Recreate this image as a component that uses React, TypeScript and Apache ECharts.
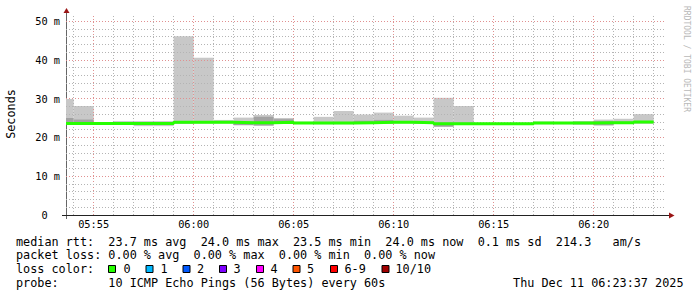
import React, { useEffect, useRef } from "react";
import * as echarts from "echarts";

// ---- data ----
const axisStart = "05:53:37";
const axisEnd = "06:23:37";
const binStarts = [
  "05:53:37", "05:54:00", "05:55:00", "05:56:00", "05:57:00", "05:58:00", "05:59:00",
  "06:00:00", "06:01:00", "06:02:00", "06:03:00", "06:04:00", "06:05:00", "06:06:00",
  "06:07:00", "06:08:00", "06:09:00", "06:10:00", "06:11:00", "06:12:00", "06:13:00",
  "06:14:00", "06:15:00", "06:16:00", "06:17:00", "06:18:00", "06:19:00", "06:20:00",
  "06:21:00", "06:22:00",
];
const binEndTime = "06:23:00";
// ms values per minute bin
const pingMin = [23.4, 23.4, 23.4, 23.4, 22.9, 22.9, 23.5, 23.6, 23.6, 23.1, 23.0, 23.5, 23.5, 23.4, 23.4,
  23.5, 23.5, 23.6, 23.5, 22.7, 23.3, 23.3, 23.3, 23.3, 23.4, 23.4, 23.3, 23.0, 23.5, 23.5];
const pingLow = [23.4, 23.4, 23.5, 23.5, 23.2, 23.2, 23.6, 23.7, 23.7, 23.2, 23.1, 23.6, 23.5, 23.5, 23.5,
  23.6, 23.6, 23.7, 23.6, 22.8, 23.3, 23.3, 23.3, 23.3, 23.5, 23.5, 23.4, 23.2, 23.6, 23.7];
const pingHigh = [25.0, 24.6, 23.8, 23.9, 23.8, 23.8, 24.2, 24.1, 24.0, 24.1, 25.3, 24.7, 24.0, 23.9, 24.0,
  24.3, 24.5, 24.1, 23.9, 23.8, 23.8, 23.7, 23.7, 23.7, 23.9, 23.9, 24.0, 24.2, 24.1, 24.1];
const pingMax = [29.9, 28.1, 23.9, 24.2, 24.2, 24.2, 46.1, 40.5, 24.5, 25.1, 25.8, 25.0, 24.0, 25.3, 26.8,
  25.9, 26.4, 25.6, 25.1, 30.2, 28.1, 23.8, 23.8, 23.8, 24.1, 24.0, 24.2, 24.6, 24.8, 26.0];
const medianRtt = [23.6, 23.6, 23.6, 23.6, 23.6, 23.6, 23.9, 23.9, 23.9, 23.8, 23.8, 23.9, 23.7, 23.7, 23.7,
  23.8, 23.9, 23.9, 23.8, 23.5, 23.5, 23.5, 23.5, 23.5, 23.7, 23.7, 23.7, 23.8, 23.8, 24.0];

const xTickLabels = ["05:55", "06:00", "06:05", "06:10", "06:15", "06:20"];
const yMax = 51.55;
const yLabelStep = 10;
const yGridStep = 2;

const lossLabels = ["0", "1", "2", "3", "4", "5", "6-9", "10/10"];
const lossColors = ["#26ff00", "#00b8ff", "#0059ff", "#7e00ff", "#ff00ff", "#ff5500", "#ff0000", "#a10000"];

const legendRtt = "median rtt:  23.7 ms avg  24.0 ms max  23.5 ms min  24.0 ms now  0.1 ms sd  214.3   am/s";
const legendLoss = "packet loss: 0.00 % avg  0.00 % max  0.00 % min  0.00 % now";
const legendColor = "loss color:";
const legendProbe = "probe:       10 ICMP Echo Pings (56 Bytes) every 60s";
const legendDate = "Thu Dec 11 06:23:37 2025";
const yTitle = "Seconds";
const watermark = "RRDTOOL / TOBI OETIKER";

// ---- helpers ----
const MONO = "'DejaVu Sans Mono', monospace";
const MINOR = "#b4b4b4";
const MAJOR = "#e09090";
const nb = (s: string) => s.replace(/ /g, "\u00a0");

function toMin(t: string): number {
  const [h, m, s] = t.split(":").map(Number);
  return h * 60 + m + (s || 0) / 60;
}
function fmt(v: number): string {
  const h = Math.floor(v / 60);
  const m = Math.round(v - h * 60);
  return String(h).padStart(2, "0") + ":" + String(m).padStart(2, "0");
}

export default function App() {
  const ref = useRef<HTMLDivElement>(null);

  useEffect(() => {
    document.body.style.margin = "0";
    if (!ref.current) return;
    const chart = echarts.init(ref.current, undefined, { renderer: "svg" });

    const start = toMin(axisStart);
    const end = toMin(axisEnd);
    const starts = binStarts.map(toMin);
    const ends = starts.slice(1).concat([toMin(binEndTime)]);
    const smokeData = starts.map((s, i) => [s, ends[i], pingMin[i], pingLow[i], pingHigh[i], pingMax[i]]);
    const medData: number[][] = starts.map((s, i) => [s, medianRtt[i]]);
    medData.push([ends[ends.length - 1], medianRtt[medianRtt.length - 1]]);

    const gridLines: any[] = [];
    for (let m = Math.ceil(start); m <= end; m++) {
      gridLines.push({ xAxis: m, lineStyle: { color: Math.round(m) % 5 === 0 ? MAJOR : MINOR, type: [1, 2], width: 1 } });
    }
    for (let v = yGridStep; v <= yMax; v += yGridStep) {
      gridLines.push({ yAxis: v, lineStyle: { color: v % yLabelStep === 0 ? MAJOR : MINOR, type: [1, 2], width: 1 } });
    }

    const boxX = [108, 145.5, 182.5, 219, 256, 292.5, 330, 381.5];
    const labX = [123.5, 160.5, 197, 233.5, 270.5, 307, 344.5, 395.5];
    const legendGraphics: any[] = [];
    lossLabels.forEach((lab, i) => {
      legendGraphics.push({
        type: "rect",
        shape: { x: boxX[i] + 0.5, y: 265.5, width: 7, height: 7 },
        style: { fill: lossColors[i], stroke: "#000", lineWidth: 1 },
        silent: true,
      });
      legendGraphics.push({
        type: "text",
        x: labX[i],
        y: 269,
        style: { text: nb(lab), font: `11.8px ${MONO}`, fill: "#000", verticalAlign: "middle", align: "left" },
        silent: true,
      });
    });

    const textLine = (t: string, y: number, x = 16, align = "left") => ({
      type: "text",
      x,
      y,
      style: { text: nb(t), font: `11.8px ${MONO}`, fill: "#000", verticalAlign: "middle", align },
      silent: true,
    });

    chart.setOption({
      animation: false,
      backgroundColor: "#ffffff",
      grid: { left: 66, top: 15, width: 600, height: 200, containLabel: false, outerBoundsMode: "none" },
      xAxis: {
        type: "value",
        min: start,
        max: end,
        axisLine: { show: false },
        axisTick: { show: false },
        splitLine: { show: false },
        axisLabel: {
          customValues: xTickLabels.map(toMin),
          formatter: (v: number) => fmt(v),
          fontFamily: MONO,
          fontSize: 10.3,
          color: "#000",
          margin: 4,
          showMinLabel: true,
          showMaxLabel: true,
        },
      },
      yAxis: {
        type: "value",
        min: 0,
        max: yMax,
        interval: yLabelStep,
        axisLine: { show: false },
        axisTick: { show: false },
        splitLine: { show: false },
        axisLabel: {
          formatter: (v: number) =>
            v === 0 ? "0\u00a0\u00a0" : Math.abs(v % yLabelStep) < 1e-9 ? `${v}\u00a0m` : "",
          fontFamily: MONO,
          fontSize: 10.3,
          color: "#000",
          margin: 6,
          showMaxLabel: false,
        },
      },
      series: [
        {
          type: "custom",
          z: 1,
          data: smokeData,
          encode: { x: [0, 1], y: [2, 3, 4, 5] },
          renderItem: (params: any, api: any) => {
            const x0 = api.value(0), x1 = api.value(1);
            const a = api.coord([x0, api.value(5)]);
            const b = api.coord([x1, api.value(2)]);
            const c = api.coord([x0, api.value(4)]);
            const d = api.coord([x1, api.value(3)]);
            return {
              type: "group",
              children: [
                { type: "rect", shape: { x: a[0], y: a[1], width: b[0] - a[0], height: b[1] - a[1] }, style: { fill: "#c8c8c8" } },
                { type: "rect", shape: { x: c[0], y: c[1], width: d[0] - c[0], height: d[1] - c[1] }, style: { fill: "#a2a2a2" } },
              ],
            };
          },
        },
        {
          type: "line",
          z: 3,
          data: medData,
          symbol: "none",
          lineStyle: { opacity: 0 },
          silent: true,
          markLine: {
            silent: true,
            symbol: ["none", "none"],
            label: { show: false },
            animation: false,
            data: gridLines,
          },
        },
        {
          type: "line",
          z: 10,
          step: "end",
          data: medData,
          symbol: "none",
          lineStyle: { color: "#26ff00", width: 3 },
          silent: true,
        },
      ],
      graphic: [
        { type: "line", shape: { x1: 66.5, y1: 12, x2: 66.5, y2: 219 }, style: { stroke: "#666", lineWidth: 1 }, silent: true },
        { type: "line", shape: { x1: 62, y1: 215.5, x2: 670, y2: 215.5 }, style: { stroke: "#222", lineWidth: 1 }, silent: true },
        { type: "polygon", shape: { points: [[63.5, 13], [69.5, 13], [66.5, 8]] }, style: { fill: "#9a1515" }, silent: true },
        { type: "polygon", shape: { points: [[669, 212.5], [669, 218.5], [674.5, 215.5]] }, style: { fill: "#9a1515" }, silent: true },
        {
          type: "text",
          x: 11,
          y: 114,
          rotation: Math.PI / 2,
          style: { text: yTitle, font: `11.8px ${MONO}`, fill: "#000", align: "center", verticalAlign: "middle" },
          silent: true,
        },
        {
          type: "text",
          x: 686,
          y: 59,
          rotation: -Math.PI / 2,
          style: { text: nb(watermark), font: `8px ${MONO}`, fill: "#b8b8b8", align: "center", verticalAlign: "middle" },
          silent: true,
        },
        textLine(legendRtt, 241.5),
        textLine(legendLoss, 255.3),
        textLine(legendColor, 269),
        textLine(legendProbe, 282.7),
        textLine(legendDate, 683.5 - 0 + 0, 0) && { ...textLine(legendDate, 282.7, 683.5, "right") },
        ...legendGraphics,
      ],
    });

    return () => chart.dispose();
  }, []);

  return <div ref={ref} style={{ width: 697, height: 297 }} />;
}
